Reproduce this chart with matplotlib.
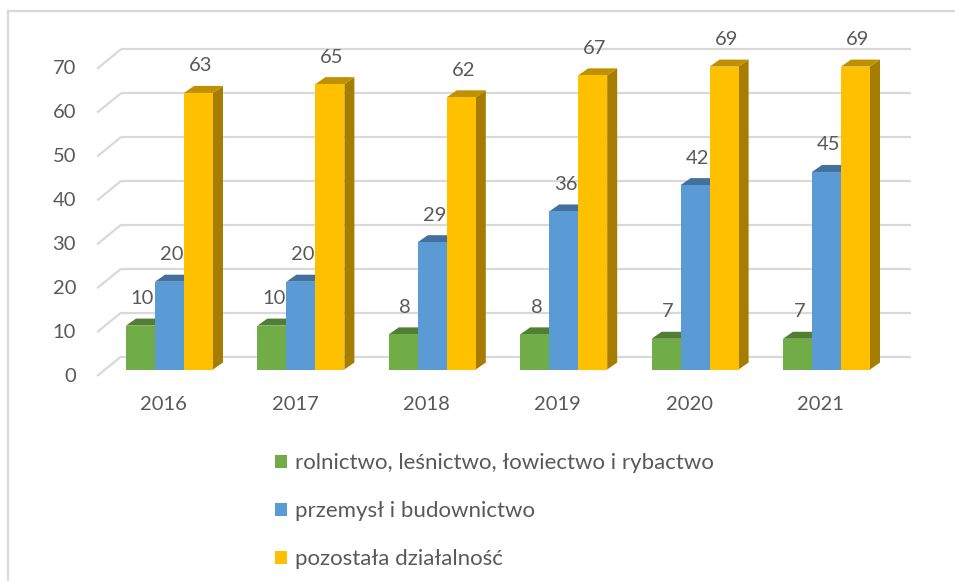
import matplotlib.pyplot as plt
import matplotlib.transforms as mtransforms
from matplotlib.patches import Polygon, Patch
from matplotlib.lines import Line2D

years = ['2016', '2017', '2018', '2019', '2020', '2021']
rolnictwo = [10, 10, 8, 8, 7, 7]
przemysl = [20, 20, 29, 36, 42, 45]
pozostala = [63, 65, 62, 67, 69, 69]
series_names = ['rolnictwo, leśnictwo, łowiectwo i rybactwo',
                'przemysł i budownictwo',
                'pozostała działalność']
y_ticks = [0, 10, 20, 30, 40, 50, 60, 70]

front_colors = ['#70AD47', '#5B9BD5', '#FFC000']
top_colors = ['#507E32', '#41719C', '#BF9000']
side_colors = ['#4A7530', '#3A6590', '#A67D00']
text_color = '#595959'
grid_color = '#D9D9D9'

plt.rcParams['font.family'] = ['Lato', 'DejaVu Sans']
fs = 14.5
fs_legend = 16

W, H = 955, 581
fig = plt.figure(figsize=(W / 100, H / 100), dpi=100)

# axes = the front plane of the columns (pixel layout of the plot area)
step = 131.4           # px between categories
c0 = 169.5             # px of the first category centre
base = 369.5           # px of value 0 on the column fronts
per10 = 43.9           # px per 10 units
x_lo, x_hi = -0.6, 5.6
ax = fig.add_axes([(c0 + x_lo * step) / W, (H - base) / H,
                   (x_hi - x_lo) * step / W, 7 * per10 / H])
ax.set_xlim(x_lo, x_hi)
ax.set_ylim(0, 70)
ax.axis('off')

def shifted(dx, dy):
    return mtransforms.offset_copy(ax.transData, fig=fig, x=dx, y=dy, units='dots')

def move(x, y, dx, dy):
    p = ax.transData.transform((x, y))
    return ax.transData.inverted().transform((p[0] + dx, p[1] + dy))

# back wall and side wall grid
wall_x0, wall_x1 = -0.49, 5.52
back = shifted(16, 13)
for v in y_ticks:
    ax.plot([wall_x0, wall_x1], [v, v], color=grid_color, lw=1.6,
            transform=back, zorder=1, clip_on=False, solid_capstyle='butt')
    a = move(wall_x0, v, -8, -6.5)
    b = move(wall_x0, v, 16, 13)
    ax.plot([a[0], b[0]], [a[1], b[1]], color=grid_color, lw=1.6,
            zorder=1, clip_on=False, solid_capstyle='butt')
    ax.text(wall_x0, v, str(v), transform=shifted(-29, -6.5), ha='right',
            va='center', fontsize=fs, color=text_color)

# columns
bw = 29 / step
depth = (10, 7)
series = [rolnictwo, przemysl, pozostala]
for k, vals in enumerate(series):
    xs = [i + (k - 1) * bw for i in range(len(years))]
    ax.bar(xs, vals, width=bw, color=front_colors[k], zorder=3, clip_on=False)
    for x, v in zip(xs, vals):
        x0, x1 = x - bw / 2, x + bw / 2
        top = [(x0, v), (x1, v), move(x1, v, *depth), move(x0, v, *depth)]
        side = [(x1, 0), (x1, v), move(x1, v, *depth), move(x1, 0, *depth)]
        ax.add_patch(Polygon(side, closed=True, color=side_colors[k], zorder=2,
                             lw=0, clip_on=False))
        ax.add_patch(Polygon(top, closed=True, color=top_colors[k], zorder=2,
                             lw=0, clip_on=False))
        ax.text(x, v, str(v), transform=shifted(2, 27), ha='center', va='center',
                fontsize=fs, color=text_color, zorder=4)

for i, yr in enumerate(years):
    ax.text(i, 0, yr, transform=shifted(-6, -35), ha='center', va='center',
            fontsize=fs, color=text_color)

handles = [Patch(facecolor=c, edgecolor='none') for c in front_colors]
fig.legend(handles, series_names, loc='upper left',
           bbox_to_anchor=(275 / W, 1 - 453 / H), bbox_transform=fig.transFigure,
           frameon=False, handlelength=0.54, handleheight=0.54, handletextpad=0.36,
           labelspacing=1.26, borderpad=0, borderaxespad=0, fontsize=fs_legend,
           labelcolor=text_color)

# chart frame (cut at the right and bottom)
fig.add_artist(Line2D([8 / W, 1], [1 - 11 / H, 1 - 11 / H], color=grid_color,
                      lw=1.6, transform=fig.transFigure))
fig.add_artist(Line2D([8 / W, 8 / W], [0, 1 - 11 / H], color=grid_color,
                      lw=1.6, transform=fig.transFigure))

fig.savefig('out.png', dpi=100)
